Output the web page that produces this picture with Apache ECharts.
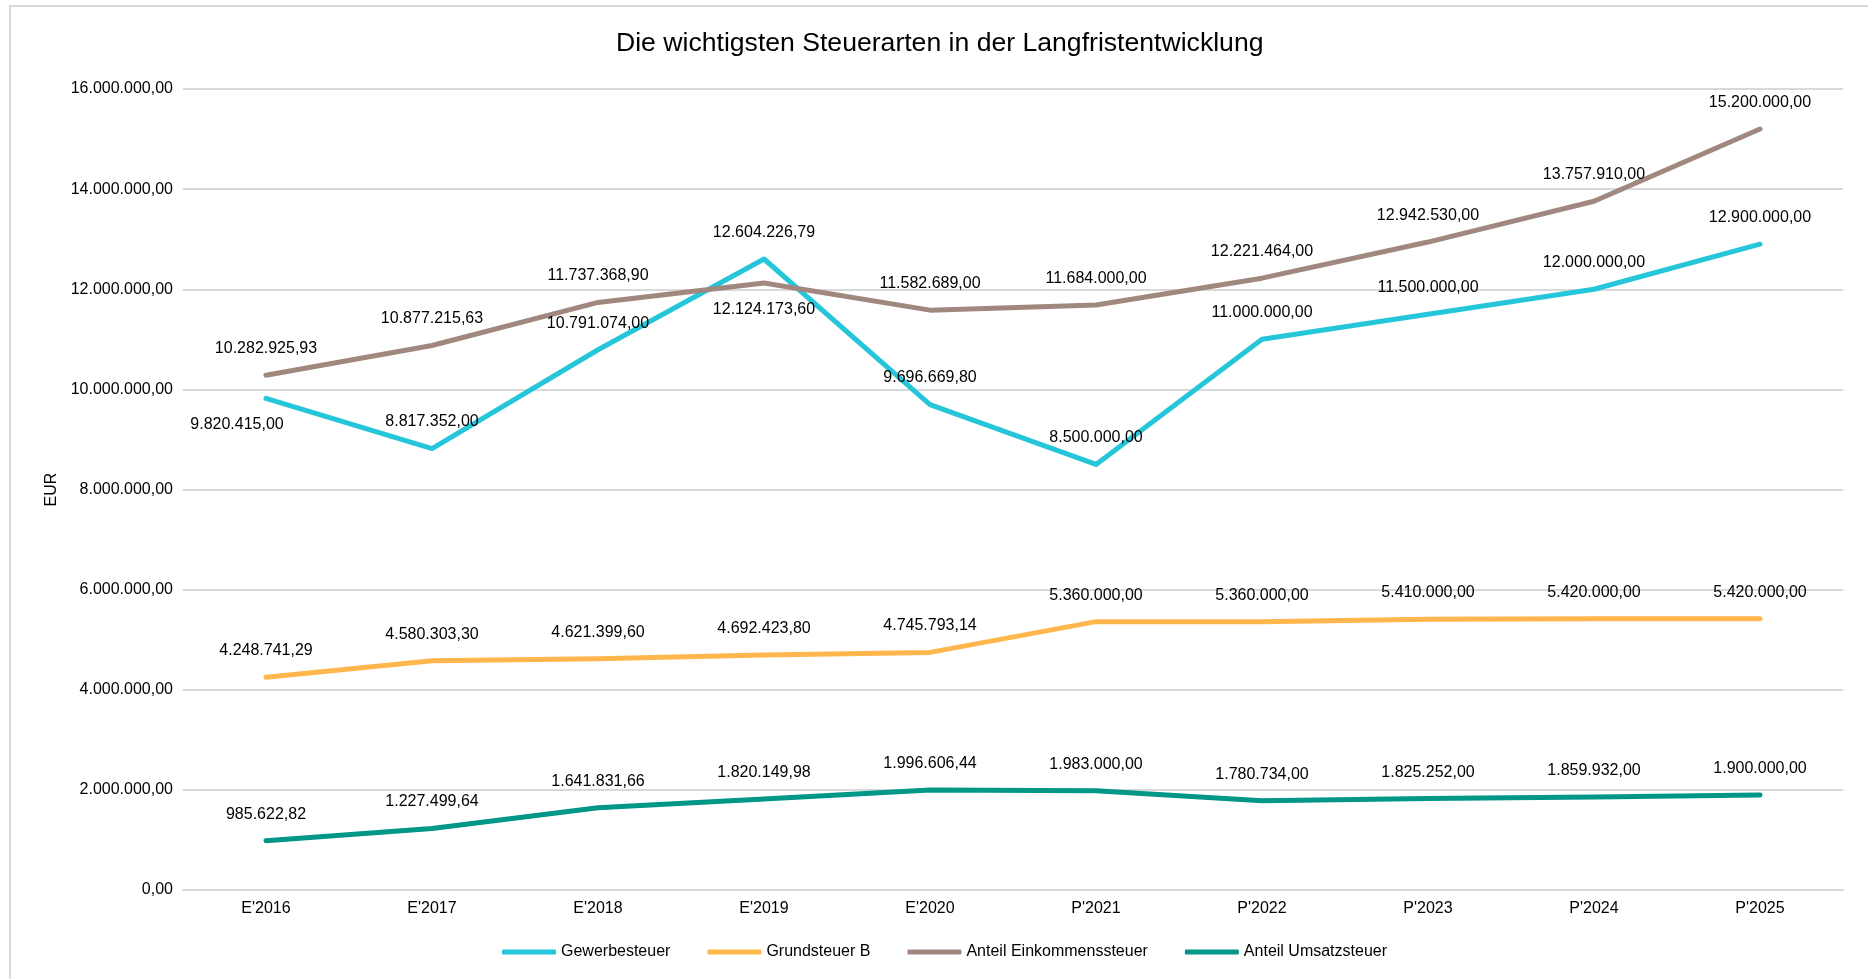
<!DOCTYPE html>
<html>
<head>
<meta charset="utf-8">
<title>Steuerarten</title>
<script src="https://cdn.jsdelivr.net/npm/echarts@6/dist/echarts.min.js"></script>
<style>
  html, body { margin: 0; padding: 0; background: #fff; overflow: hidden; }
  #frame { position: absolute; left: 9px; top: 5px; width: 1900px; height: 1000px; border: 2px solid #d9d9d9; box-sizing: border-box; }
  #chart { position: absolute; left: 0; top: 0; width: 1868px; height: 979px; }
</style>
</head>
<body>
<div id="frame"></div>
<div id="chart"></div>
<script>
// Daten
var categories = ["E'2016", "E'2017", "E'2018", "E'2019", "E'2020", "P'2021", "P'2022", "P'2023", "P'2024", "P'2025"];
var gewerbesteuer = [9820415.00, 8817352.00, 10791074.00, 12604226.79, 9696669.80, 8500000.00, 11000000.00, 11500000.00, 12000000.00, 12900000.00];
var grundsteuerB = [4248741.29, 4580303.30, 4621399.60, 4692423.80, 4745793.14, 5360000.00, 5360000.00, 5410000.00, 5420000.00, 5420000.00];
var einkommensteuer = [10282925.93, 10877215.63, 11737368.90, 12124173.60, 11582689.00, 11684000.00, 12221464.00, 12942530.00, 13757910.00, 15200000.00];
var umsatzsteuer = [985622.82, 1227499.64, 1641831.66, 1820149.98, 1996606.44, 1983000.00, 1780734.00, 1825252.00, 1859932.00, 1900000.00];

var FONT = "Arial, 'Liberation Sans', sans-serif";

// deutsches Zahlenformat 1.234.567,89
function fmt(v) {
  var s = Math.abs(v).toFixed(2).split('.');
  var i = s[0].replace(/\B(?=(\d{3})+(?!\d))/g, '.');
  return (v < 0 ? '-' : '') + i + ',' + s[1];
}

// Einzelne Labels, die im Original anders sitzen
function withLabels(values, special) {
  return values.map(function(v, idx) {
    if (special[idx]) {
      return { value: v, label: special[idx] };
    }
    return v;
  });
}

function makeSeries(name, color, data) {
  return {
    name: name,
    type: 'line',
    data: data,
    symbol: 'circle',
    symbolSize: 1,
    itemStyle: { color: color },
    lineStyle: { color: color, width: 5, cap: 'round', join: 'round' },
    label: {
      show: true,
      position: 'top',
      distance: 18,
      color: '#000',
      fontFamily: FONT,
      fontSize: 16,
      formatter: function(p) { return fmt(p.value); }
    },
    emphasis: { disabled: true }
  };
}

var myChart = echarts.init(document.getElementById('chart'));

var option = {
  animation: false,
  backgroundColor: 'transparent',
  title: {
    text: 'Die wichtigsten Steuerarten in der Langfristentwicklung',
    left: 616,
    top: 30,
    padding: 0,
    textStyle: { fontFamily: FONT, fontSize: 26.6, fontWeight: 'normal', color: '#000' }
  },
  legend: {
    left: 502,
    top: 944,
    padding: 0,
    itemWidth: 54,
    itemHeight: 5,
    itemGap: 37,
    icon: 'roundRect',
    textStyle: { fontFamily: FONT, fontSize: 16, color: '#000' },
    data: ['Gewerbesteuer', 'Grundsteuer B', 'Anteil Einkommenssteuer', 'Anteil Umsatzsteuer']
  },
  grid: { left: 183, right: 25, top: 89, bottom: 89 },
  xAxis: {
    type: 'category',
    data: categories,
    boundaryGap: true,
    axisTick: { show: false },
    axisLine: { lineStyle: { color: '#d9d9d9', width: 2 } },
    axisLabel: { color: '#000', fontFamily: FONT, fontSize: 16, margin: 11 }
  },
  yAxis: {
    type: 'value',
    min: 0,
    max: 16000000,
    interval: 2000000,
    name: 'EUR',
    nameLocation: 'middle',
    nameGap: 122,
    nameTextStyle: { color: '#000', fontFamily: FONT, fontSize: 16 },
    axisLine: { show: false },
    axisTick: { show: false },
    splitLine: { lineStyle: { color: '#d9d9d9', width: 2 } },
    axisLabel: {
      color: '#000', fontFamily: FONT, fontSize: 16, margin: 10,
      formatter: function(v) { return fmt(v); }
    }
  },
  series: [
    makeSeries('Gewerbesteuer', '#26C6DA',
      withLabels(gewerbesteuer, { 0: { position: 'bottom', offset: [-29, 0] } })),
    makeSeries('Grundsteuer B', '#FFB74D', grundsteuerB),
    makeSeries('Anteil Einkommenssteuer', '#A1887F',
      withLabels(einkommensteuer, { 3: { position: 'bottom' } })),
    makeSeries('Anteil Umsatzsteuer', '#009688', umsatzsteuer)
  ]
};

myChart.setOption(option);
</script>
</body>
</html>
